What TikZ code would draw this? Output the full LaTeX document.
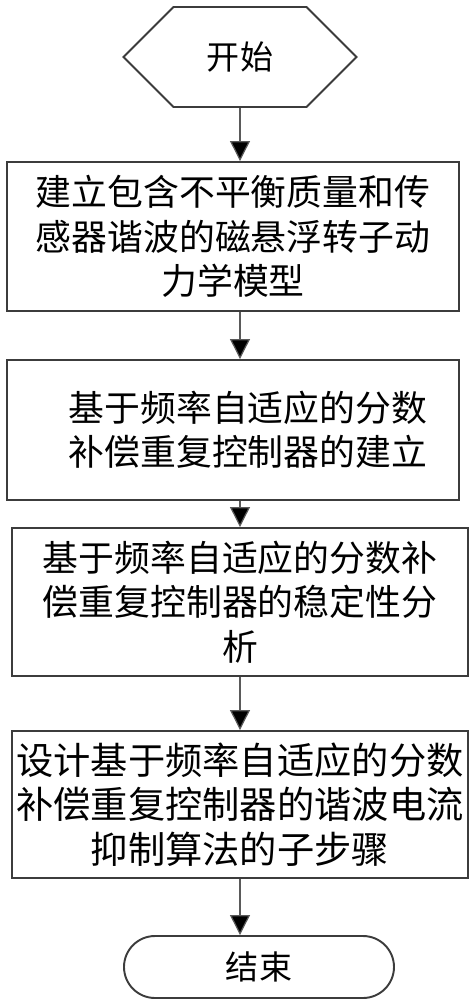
\documentclass[tikz,border=0pt]{standalone}
\usepackage{fontspec}
\newfontfamily\cjk{Noto Sans CJK SC}
\usepackage{tikz}
\usetikzlibrary{shapes.symbols, shapes.misc, arrows.meta, positioning, calc}
\definecolor{boxgray}{RGB}{60, 60, 60}
\definecolor{linegray}{RGB}{90, 90, 90}
\tikzset{
  stepbox/.style={draw=boxgray, line width=0.55pt, rectangle, align=center, inner sep=0pt, font=\cjk\fontsize{10.2pt}{12.6pt}\selectfont},
  flowarrow/.style={draw=linegray, line width=0.35pt, -{Triangle[length=2mm, width=2mm, fill=black]}},
}

\begin{document}
\begin{tikzpicture}[x=0.1mm, y=-0.1mm]
  \useasboundingbox (0, 0) rectangle (471, 1000);

  % Start and end
  \node[draw=boxgray, line width=0.55pt, signal, signal to=west and east, signal pointer angle=90, minimum width=23.3mm, minimum height=10mm, inner sep=0pt, font=\cjk\fontsize{9.4pt}{11pt}\selectfont] (start) at (240, 57) {\raisebox{-0.9mm}{开始}};
  \node[draw=boxgray, line width=0.55pt, rounded rectangle, minimum width=27mm, minimum height=6.2mm, inner sep=0pt, font=\cjk\fontsize{9.4pt}{11pt}\selectfont] (finish) at (259, 967) {结束};

  % Steps
  \node[stepbox, minimum width=45.2mm, minimum height=14.9mm] (model) at (233, 236.5) {建立包含不平衡质量和传\\感器谐波的磁悬浮转子动\\力学模型};
  \node[stepbox, minimum width=45.2mm, minimum height=14mm] (build) at (233, 430) {\hspace*{3mm}基于频率自适应的分数\\\hspace*{3mm}补偿重复控制器的建立};
  \node[stepbox, minimum width=45.6mm, minimum height=14.8mm] (stable) at (240, 602) {基于频率自适应的分数补\\偿重复控制器的稳定性分\\析};
  \node[stepbox, minimum width=45.6mm, minimum height=14.7mm, font=\cjk\fontsize{10.6pt}{12.6pt}\selectfont] (design) at (240, 804.5) {设计基于频率自适应的分数\\补偿重复控制器的谐波电流\\抑制算法的子步骤};

  % Arrows
  \draw[flowarrow] (start.south) -- (start.south |- model.north);
  \draw[flowarrow] (model.south -| start.south) -- (build.north -| start.south);
  \draw[flowarrow] (build.south -| stable.north) -- (stable.north);
  \draw[flowarrow] (stable.south) -- (design.north);
  \draw[flowarrow] (design.south) -- (design.south |- finish.north);
\end{tikzpicture}
\end{document}
